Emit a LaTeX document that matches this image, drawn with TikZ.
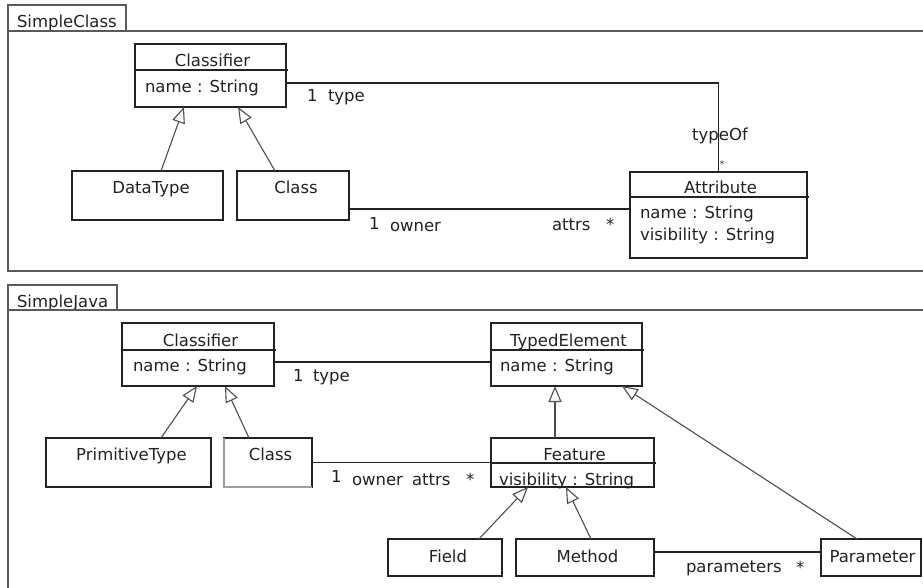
\documentclass[tikz,border=0pt]{standalone}
\usepackage{fontspec}
\setmainfont{DejaVu Sans}
\usetikzlibrary{arrows.meta}
\definecolor{ink}{HTML}{222222}
\definecolor{frame}{HTML}{5A5A5A}
\begin{document}
\begin{tikzpicture}[x=1pt,y=-1pt,
  every node/.style={font=\fontsize{16.5}{19}\selectfont, text=ink, inner sep=0pt, outer sep=0pt},
  umlbox/.style={draw=ink, line width=1.2pt, rectangle, fill=white},
  tabbox/.style={draw=frame, line width=1.2pt, rectangle},
  pkgline/.style={draw=frame, line width=1.2pt},
  assoc/.style={draw=ink, line width=1.2pt},
  divider/.style={draw=ink, line width=1.1pt},
  gen/.style={draw=ink!80, line width=1.1pt, -{Triangle[open, length=16pt, width=13pt, line width=1.1pt]}},
  lbl/.style={anchor=base west},
  ctr/.style={anchor=base},
  tiny/.style={font=\fontsize{9}{10}\selectfont, anchor=center}]
\useasboundingbox (0,0) rectangle (923,587);
\clip (0,0) rectangle (923,587);
\fill[white] (0,0) rectangle (923,587);

% ---------------- package SimpleClass ----------------
\node[tabbox, minimum width=118pt, minimum height=26pt] (tabA) at (67,18) {};
\node[lbl] (pkgAname) at (17,27.5) {SimpleClass};
\draw[pkgline] (tabA.south west) -- (8,271) -- (940,271);
\draw[pkgline] (tabA.south west) -- (940,31);

% classes
\node[umlbox, minimum width=151pt, minimum height=63pt] (clsA) at (210.5,75.5) {};
\draw[divider] ([yshift=-26pt]clsA.north west) -- ([yshift=-26pt,xshift=1.5pt]clsA.north east);
\node[ctr] (clsAt) at (212.5,66.5) {Classifier};
\node[lbl] (clsAa) at (145,92) {name : String};

\node[umlbox, minimum width=151pt, minimum height=49pt] (dtA) at (147.5,195.5) {};
\node[ctr] (dtAt) at (151,193) {DataType};

\node[umlbox, minimum width=112pt, minimum height=49pt] (classA) at (293,195.5) {};
\node[ctr] (classAt) at (296,193) {Class};

\node[umlbox, minimum width=177pt, minimum height=86pt] (attrA) at (718.5,215) {};
\draw[divider] ([yshift=-25pt]attrA.north west) -- ([yshift=-25pt,xshift=2pt]attrA.north east);
\node[ctr] (attrAt) at (720.5,193) {Attribute};
\node[lbl] (attrAa) at (640,218) {name : String};
\node[lbl] (attrAb) at (640,240) {visibility : String};

% generalizations
\draw[gen] ([xshift=13.5pt]dtA.north) -- ([xshift=-26.5pt]clsA.south);
\draw[gen] ([xshift=-18pt]classA.north) -- ([xshift=27.5pt]clsA.south);

% associations
\draw[assoc] ([yshift=-7.5pt]clsA.east) -| (attrA.north);
\node[lbl] (mA1) at (307,101.5) {1};
\node[lbl] (rA1) at (328,101.5) {type};
\node[ctr] (rA2) at (720,140) {typeOf};
\node[tiny] (mA2) at (722,164) {*};

\coordinate (ownA) at ([yshift=-13.5pt]classA.east);
\draw[assoc] (ownA) -- (ownA -| attrA.west);
\node[lbl] (mA3) at (369,229) {1};
\node[lbl] (rA3) at (390,231) {owner};
\node[lbl] (rA4) at (552,230) {attrs};
\node[lbl] (mA4) at (606,230) {*};

% ---------------- package SimpleJava ----------------
\node[tabbox, minimum width=109pt, minimum height=25pt] (tabB) at (62.5,297.5) {};
\node[lbl] (pkgBname) at (17,307) {SimpleJava};
\draw[pkgline] (tabB.south west) -- (8,600);
\draw[pkgline] (tabB.south west) -- (940,310);

% classes
\node[umlbox, minimum width=152pt, minimum height=63pt] (clsB) at (198,354.5) {};
\draw[divider] ([yshift=-27pt]clsB.north west) -- ([yshift=-27pt,xshift=1.5pt]clsB.north east);
\node[ctr] (clsBt) at (200.5,346.5) {Classifier};
\node[lbl] (clsBa) at (133,371.5) {name : String};

\node[umlbox, minimum width=151pt, minimum height=63pt] (teB) at (566.5,354.5) {};
\draw[divider] ([yshift=-27pt]teB.north west) -- ([yshift=-27pt,xshift=1.5pt]teB.north east);
\node[ctr] (teBt) at (568.5,346.5) {TypedElement};
\node[lbl] (teBa) at (500,371.5) {name : String};

\node[umlbox, minimum width=165pt, minimum height=49pt] (primB) at (128.5,462.5) {};
\node[ctr] (primBt) at (131.5,460) {PrimitiveType};

\node[umlbox, minimum width=88pt, minimum height=49pt] (classB) at (268,462.5) {};
\draw[draw=ink!45, line width=1.2pt] (classB.north west) -- (classB.south west) -- (classB.south east);
\node[ctr] (classBt) at (270.5,460) {Class};

\node[umlbox, minimum width=163pt, minimum height=49pt] (featB) at (572.5,462.5) {};
\draw[divider] ([yshift=-25pt]featB.north west) -- ([yshift=-25pt,xshift=2pt]featB.north east);
\node[ctr] (featBt) at (574.5,460) {Feature};
\node[lbl] (featBa) at (499,485) {visibility : String};

\node[umlbox, minimum width=114pt, minimum height=37pt] (fieldB) at (445,557.5) {};
\node[ctr] (fieldBt) at (448,562) {Field};

\node[umlbox, minimum width=138pt, minimum height=37pt] (methB) at (585,557.5) {};
\node[ctr] (methBt) at (587.5,562) {Method};

\node[umlbox, minimum width=100pt, minimum height=37pt] (paramB) at (871,557.5) {};
\node[ctr] (paramBt) at (872.5,562) {Parameter};

% generalizations
\draw[gen] ([xshift=32.5pt]primB.north) -- ([xshift=-1pt]clsB.south);
\draw[gen] ([xshift=-19pt]classB.north) -- ([xshift=27pt]clsB.south);
\draw[gen] ([xshift=-17.5pt]featB.north) -- ([xshift=-11.5pt]teB.south);
\draw[gen] ([xshift=-14pt]paramB.north) -- ([xshift=55.5pt]teB.south);
\draw[gen] ([xshift=34pt]fieldB.north) -- ([xshift=-44.5pt]featB.south);
\draw[gen] ([xshift=6pt]methB.north) -- ([xshift=-6.5pt]featB.south);

% associations
\coordinate (typB) at ([yshift=-7.5pt]clsB.east);
\draw[assoc] (typB) -- (typB -| teB.west);
\node[lbl] (mB1) at (293,381) {1};
\node[lbl] (rB1) at (313,381) {type};

\draw[assoc] (classB.east) -- (featB.west);
\node[lbl] (mB2) at (331,482) {1};
\node[lbl] (rB2) at (352,485) {owner};
\node[lbl] (rB3) at (412,485) {attrs};
\node[lbl] (mB3) at (466,485) {*};

\coordinate (parB) at ([yshift=5.5pt]methB.east);
\draw[assoc] (parB) -- (parB -| paramB.west);
\node[lbl] (rB4) at (686,572) {parameters};
\node[lbl] (mB4) at (796,573) {*};
\end{tikzpicture}
\end{document}
